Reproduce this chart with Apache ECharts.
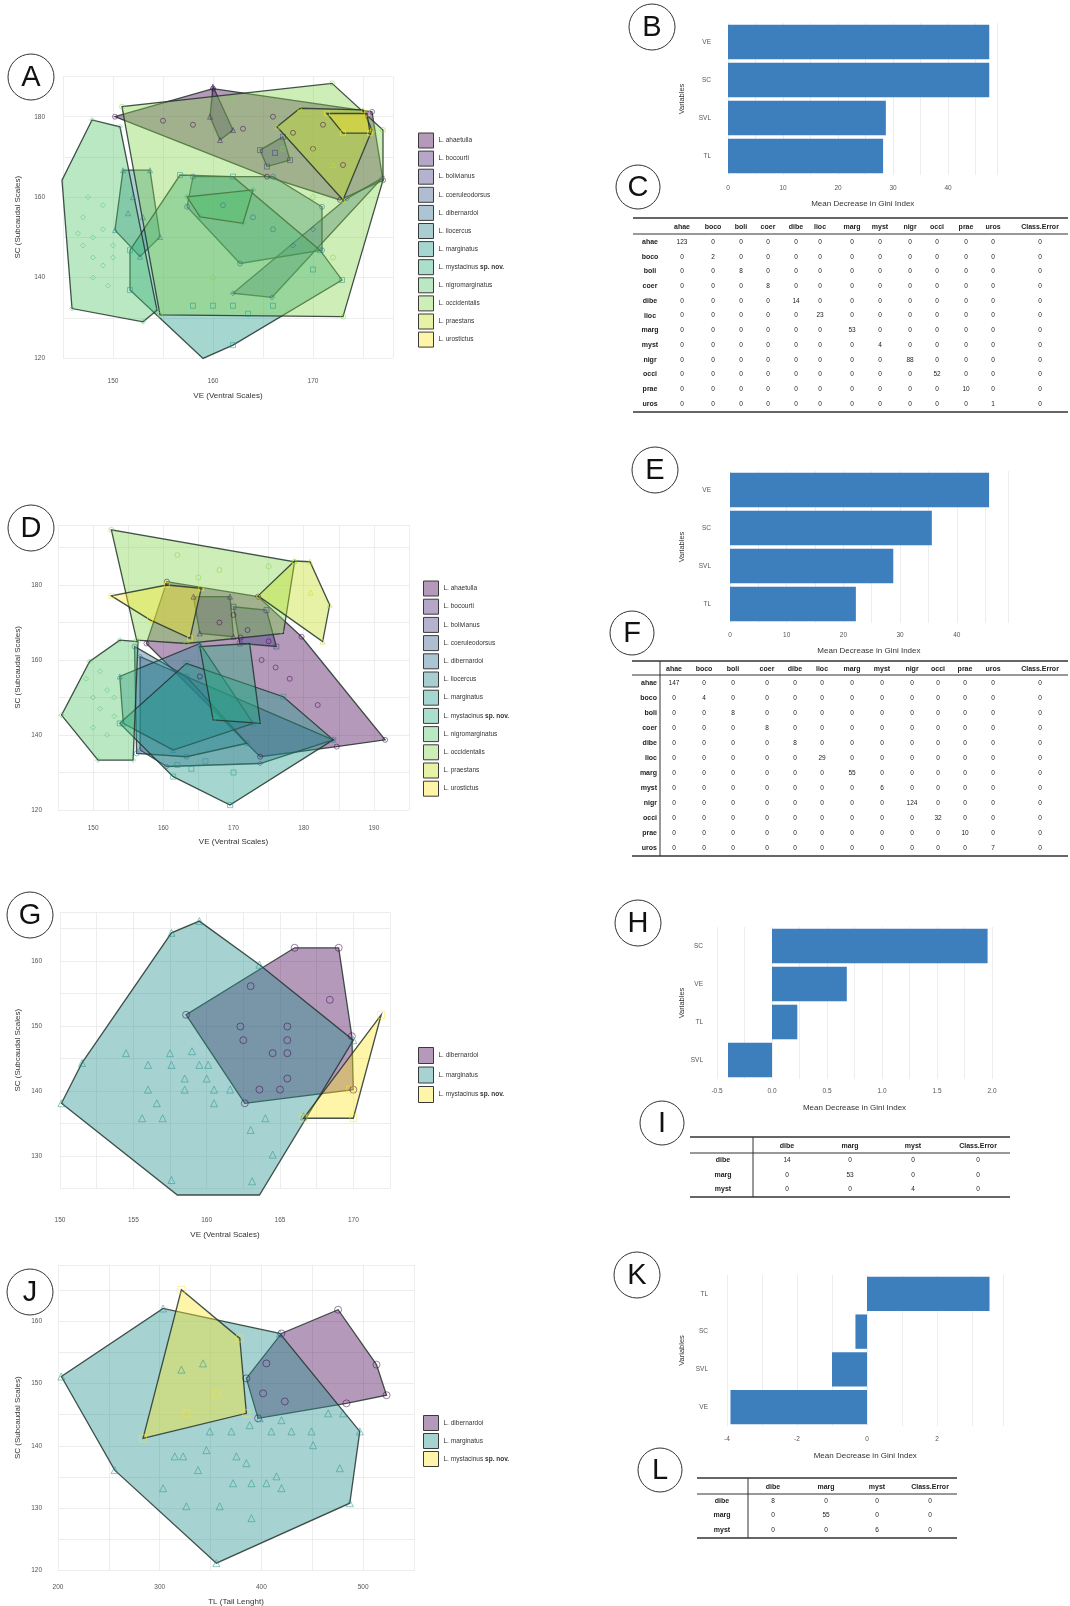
<!DOCTYPE html>
<html>
<head>
<meta charset="utf-8">
<script src="https://cdn.jsdelivr.net/npm/echarts@6/dist/echarts.min.js"></script>
<style>
  html, body { margin: 0; padding: 0; background: #fff; }
  #chart { width: 1070px; height: 1606px; }
</style>
</head>
<body>
<div id="chart"></div>
<script>
const FONT = "Liberation Sans, Arial, Helvetica, sans-serif";

// species and palettes
const species12 = ["L. ahaetulla", "L. bocourti", "L. bolivianus", "L. coeruleodorsus", "L. dibernardoi", "L. liocercus",
  "L. marginatus", "L. mystacinus sp. nov.", "L. nigromarginatus", "L. occidentalis", "L. praestans", "L. urostictus"];
const species3 = ["L. dibernardoi", "L. marginatus", "L. mystacinus sp. nov."];
const viridis12 = ["#440154", "#482173", "#433E85", "#38598C", "#2D708E", "#25858E", "#1E9B8A", "#2BB07F", "#51C56A", "#85D54A", "#C2DF23", "#FDE725"];
const viridis3 = ["#440154", "#21908C", "#FDE725"];
const symbols12 = ["circle", "triangle", "rect", "diamond", "circle", "triangle", "rect", "diamond", "diamond", "circle", "triangle", "rect"];
const symbols3 = ["circle", "triangle", "rect"];

// panel A: [VE, SC] per species
const pointsA = [
  [[150.2,180.0],[160.0,187.0],[175.9,181.2],[177.0,164.2],[172.7,159.3],[165.4,165.1],[155,179],[158,178],[163,177],[166,180],[170,172],[168,176],[173,168],[171,178]],
  [[160.0,187.5],[162.0,176.7],[160.7,174.2],[159.7,180.0]],
  [[164.7,171.7],[167.0,175.0],[167.7,169.2],[165.4,167.6],[166.2,171.0]],
  [[176.9,164.7],[173.4,159.7],[162.0,136.1],[165.9,135.1],[168,148],[170,152]],
  [[158.0,165.1],[166.0,165.1],[170.9,157.6],[170.9,146.8],[162.7,143.5],[157.4,157.6],[164,155],[166,152],[161,158]],
  [[151.0,166.7],[153.7,166.7],[154.7,150.1],[152.7,145.2],[150.2,151.8],[152,160],[153,155],[151.5,156]],
  [[151.7,146.8],[151.7,136.9],[159.0,119.9],[162.0,123.2],[172.9,139.4],[170.7,146.8],[162.0,165.1],[156.7,165.5],[158,133],[160,133],[162,133],[163.5,131],[166,133],[170,142]],
  [[157.4,160.1],[164.0,161.8],[163.0,153.5],[158.7,155.1]],
  [[147.9,179.2],[150.7,177.5],[154.4,131.9],[153.0,129.0],[145.9,132.3],[144.9,164.2],[147,155],[148,150],[149,152],[148,145],[147,148],[149,158],[146.5,151],[150,148],[148,140],[149,143],[150,145],[147.5,160],[149.5,138]],
  [[150.9,182.5],[171.9,188.3],[177.0,176.7],[177.0,164.2],[173.0,130.3],[154.7,130.7],[162,184],[167,172],[170,160],[172,145],[160,140]],
  [[166.4,177.5],[168.7,182.1],[175.0,181.7],[175.9,176.7],[173.0,159.3],[170,172],[172,168]],
  [[171.4,180.8],[175.4,180.8],[175.7,175.9],[173.0,175.9]]
];

// panel D: [VE, SC] per species
const pointsD = [
  [[160.5,180.9],[173.5,176.9],[179.7,166.2],[191.6,138.7],[184.7,136.9],[173.8,134.2],[165.2,155.6],[157.6,164.4],[168,170],[172,168],[175,165],[170,172],[174,160],[178,155],[182,148],[176,158],[171,166]],
  [[164.3,176.9],[169.5,176.9],[170.0,166.2],[165.2,167.1]],
  [[170.0,174.2],[174.7,173.3],[176.1,163.6],[170.9,164.4]],
  [[156.7,160.9],[184.2,138.7],[173.8,132.4],[160.5,131.6],[156.7,136.0]],
  [[155.9,163.6],[163.3,155.6],[171.9,137.8],[163.3,134.2],[156.2,135.1]],
  [[153.8,155.6],[165.2,164.4],[172.8,143.1],[161.4,136.0],[154.3,143.1]],
  [[153.8,143.1],[161.4,128.9],[169.5,121.3],[184.2,138.7],[177.1,150.2],[163.3,159.1],[162,132],[164,131],[166,133],[170,130]],
  [[165.2,163.6],[172.3,164.4],[173.8,143.1],[167.1,144.0]],
  [[145.5,145.3],[149.5,159.6],[153.8,165.3],[156.4,164.9],[155.7,133.3],[150.7,133.3],[150,150],[151,147],[152,152],[150,142],[153,145],[152,140],[149,155],[151,157],[153,150]],
  [[152.6,194.7],[178.7,186.2],[177.1,167.1],[163.3,164.4],[156.2,165.3],[162,188],[168,184],[165,182],[175,185]],
  [[173.5,177.1],[178.7,186.4],[180.9,186.2],[183.7,174.7],[182.7,164.9],[181,178]],
  [[152.6,177.1],[160.5,180.0],[165.4,179.1],[163.8,165.8],[158.1,170.7]]
];

// panel G: [VE, SC]
const pointsG = [
  [[158.6,151.7],[166.0,162.0],[169.0,162.0],[169.9,148.4],[170.0,140.2],[162.6,138.1],[163.0,156.1],[168.4,154.0],[162.3,149.9],[165.5,149.9],[162.5,147.8],[165.5,147.8],[164.5,145.8],[165.5,145.8],[163.6,140.2],[165.0,140.2],[165.5,141.9]],
  [[150.1,138.1],[151.5,144.3],[157.6,164.3],[159.5,166.1],[163.6,159.4],[170.0,147.8],[166.6,136.1],[163.6,124.0],[158.0,124.0],[154.5,145.8],[156.0,144.0],[157.5,145.8],[157.6,144.0],[159.0,146.1],[159.5,144.0],[160.1,144.0],[158.5,141.9],[160.0,141.9],[156.0,140.2],[156.6,138.1],[158.5,140.2],[160.5,140.2],[161.6,140.2],[160.5,138.1],[155.6,135.8],[157.0,135.8],[163.0,134.0],[164.0,135.8],[164.5,130.2],[163.1,126.1],[157.6,126.3]],
  [[166.6,135.8],[171.9,151.7],[170.0,135.8],[169.8,140.2]]
];

// panel J: [TL, SC]
const pointsJ = [
  [[385.2,150.8],[419.7,158.0],[475.4,161.8],[513.1,153.0],[523.0,148.1],[483.6,146.8],[396.7,144.4],[404.9,153.2],[401.6,148.4],[423.0,147.1]],
  [[203.3,151.1],[303.3,162.0],[418.0,158.0],[496.7,142.3],[486.9,130.8],[355.7,121.2],[255.7,136.1],[349.2,142.3],[370.5,142.3],[388.5,143.3],[409.8,142.3],[429.5,142.3],[449.2,142.3],[465.6,145.2],[480.3,145.2],[450.8,140.1],[314.8,138.3],[323.0,138.3],[345.9,139.3],[375.4,138.3],[385.2,137.2],[337.7,136.1],[372.1,134.0],[390.2,134.0],[404.9,134.0],[414.8,135.1],[419.7,133.2],[477.0,136.4],[303.3,133.2],[326.2,130.3],[359.0,130.3],[390.2,128.4],[419.7,144.1],[398.4,144.4],[321.3,152.2],[342.6,153.2]],
  [[321.3,165.0],[378.7,157.2],[385.2,145.2],[283.6,141.2],[326.2,145.2],[355.7,148.4]]
];

// variable importance (Mean Decrease in Gini Index)
const varsB = ["VE", "SC", "SVL", "TL"];
const giniB = [47.5, 47.5, 28.7, 28.2];
const varsE = ["VE", "SC", "SVL", "TL"];
const giniE = [45.7, 35.6, 28.8, 22.2];
const varsH = ["SC", "VE", "TL", "SVL"];
const giniH = [1.96, 0.68, 0.23, -0.40];
const varsK = ["TL", "SC", "SVL", "VE"];
const giniK = [3.5, -0.33, -1.0, -3.9];

// confusion matrices
const abbr12 = ["ahae", "boco", "boli", "coer", "dibe", "lioc", "marg", "myst", "nigr", "occi", "prae", "uros"];
const abbr3 = ["dibe", "marg", "myst"];
const tableC = [
  [123,0,0,0,0,0,0,0,0,0,0,0,0],
  [0,2,0,0,0,0,0,0,0,0,0,0,0],
  [0,0,8,0,0,0,0,0,0,0,0,0,0],
  [0,0,0,8,0,0,0,0,0,0,0,0,0],
  [0,0,0,0,14,0,0,0,0,0,0,0,0],
  [0,0,0,0,0,23,0,0,0,0,0,0,0],
  [0,0,0,0,0,0,53,0,0,0,0,0,0],
  [0,0,0,0,0,0,0,4,0,0,0,0,0],
  [0,0,0,0,0,0,0,0,88,0,0,0,0],
  [0,0,0,0,0,0,0,0,0,52,0,0,0],
  [0,0,0,0,0,0,0,0,0,0,10,0,0],
  [0,0,0,0,0,0,0,0,0,0,0,1,0]
];
const tableF = [
  [147,0,0,0,0,0,0,0,0,0,0,0,0],
  [0,4,0,0,0,0,0,0,0,0,0,0,0],
  [0,0,8,0,0,0,0,0,0,0,0,0,0],
  [0,0,0,8,0,0,0,0,0,0,0,0,0],
  [0,0,0,0,8,0,0,0,0,0,0,0,0],
  [0,0,0,0,0,29,0,0,0,0,0,0,0],
  [0,0,0,0,0,0,55,0,0,0,0,0,0],
  [0,0,0,0,0,0,0,6,0,0,0,0,0],
  [0,0,0,0,0,0,0,0,124,0,0,0,0],
  [0,0,0,0,0,0,0,0,0,32,0,0,0],
  [0,0,0,0,0,0,0,0,0,0,10,0,0],
  [0,0,0,0,0,0,0,0,0,0,0,7,0]
];
const tableI = [[14,0,0,0],[0,53,0,0],[0,0,4,0]];
const tableL = [[8,0,0,0],[0,55,0,0],[0,0,6,0]];

const BAR = "#3d7ebd";
const HULL_ALPHA = 0.4;

function rgba(hex, a) {
  const n = parseInt(hex.slice(1), 16);
  return "rgba(" + (n >> 16) + "," + ((n >> 8) & 255) + "," + (n & 255) + "," + a + ")";
}

function convexHull(points) {
  const p = points.slice().sort((a, b) => a[0] - b[0] || a[1] - b[1]);
  const cross = (o, a, b) => (a[0] - o[0]) * (b[1] - o[1]) - (a[1] - o[1]) * (b[0] - o[0]);
  const lower = [];
  for (const q of p) {
    while (lower.length >= 2 && cross(lower[lower.length - 2], lower[lower.length - 1], q) <= 0) lower.pop();
    lower.push(q);
  }
  const upper = [];
  for (let i = p.length - 1; i >= 0; i--) {
    const q = p[i];
    while (upper.length >= 2 && cross(upper[upper.length - 2], upper[upper.length - 1], q) <= 0) upper.pop();
    upper.push(q);
  }
  upper.pop();
  lower.pop();
  return lower.concat(upper);
}

function tickFormatter(step, dec) {
  return (v) => {
    const k = v / step;
    return Math.abs(k - Math.round(k)) < 1e-6 ? (Math.abs(v) < 1e-9 ? 0 : v).toFixed(dec) : "";
  };
}

function valueAxis(o) {
  return {
    type: "value", gridIndex: o.g, min: o.min, max: o.max, interval: o.interval,
    name: o.name || "", nameLocation: "middle", nameGap: o.nameGap,
    nameTextStyle: { fontSize: 8, color: "#333", fontFamily: FONT },
    axisLine: { show: false }, axisTick: { show: false },
    splitLine: { show: true, lineStyle: { color: "#e8e8e8", width: 0.8 } },
    axisLabel: { margin: o.margin, fontSize: 6.5, color: "#555", fontFamily: FONT,
      formatter: tickFormatter(o.step, o.dec || 0), showMinLabel: true, showMaxLabel: true }
  };
}

function catAxis(g, vars, margin, nameGap) {
  return {
    type: "category", gridIndex: g, data: vars, inverse: true,
    name: "Variables", nameLocation: "middle", nameGap: nameGap,
    nameTextStyle: { fontSize: 7.5, color: "#333", fontFamily: FONT },
    axisLine: { show: false }, axisTick: { show: false }, splitLine: { show: false },
    axisLabel: { margin: margin, fontSize: 6.5, color: "#555", fontFamily: FONT }
  };
}

function hullPanel(panel, g, names, colors, symbols, pts, size) {
  const out = [];
  names.forEach((n, i) => {
    const nm = n + "@" + panel;
    const h = convexHull(pts[i]);
    const fill = rgba(colors[i], HULL_ALPHA);
    out.push({
      type: "custom", name: nm, xAxisIndex: g, yAxisIndex: g, data: h, silent: true, z: 2,
      itemStyle: { color: fill },
      renderItem: (params, api) => {
        if (params.dataIndex !== 0) return null;
        return {
          type: "polygon",
          shape: { points: h.map((p) => api.coord(p)) },
          style: { fill: fill, stroke: "rgba(35,52,45,0.85)", lineWidth: 1.3 }
        };
      }
    });
    out.push({
      type: "scatter", name: nm, xAxisIndex: g, yAxisIndex: g, data: pts[i], silent: true, z: 3,
      symbol: symbols[i], symbolSize: size,
      itemStyle: { color: "rgba(0,0,0,0)", borderColor: rgba(colors[i], 0.8), borderWidth: 0.8 }
    });
  });
  return out;
}

function legendFor(panel, names, colors, left, top, itemH, gap) {
  return {
    orient: "vertical", left: left, top: top, itemWidth: 15, itemHeight: itemH, itemGap: gap,
    icon: "rect", selectedMode: false,
    data: names.map((n, i) => ({ name: n + "@" + panel,
      itemStyle: { color: rgba(colors[i], HULL_ALPHA), borderColor: "#3a3a3a", borderWidth: 1 } })),
    formatter: (nm) => {
      const n = nm.split("@")[0];
      if (n.indexOf("sp. nov.") >= 0) return "{n|" + n.replace(" sp. nov.", "") + " }{b|sp. nov.}";
      return "{n|" + n + "}";
    },
    textStyle: { fontSize: 6.5, color: "#333", fontFamily: FONT,
      rich: { n: { fontSize: 6.5, color: "#333", fontFamily: FONT },
              b: { fontSize: 6.5, fontWeight: "bold", color: "#333", fontFamily: FONT } } }
  };
}

function barSeries(g, vals) {
  return { type: "bar", xAxisIndex: g, yAxisIndex: g, data: vals, barCategoryGap: "9%",
    itemStyle: { color: BAR }, silent: true };
}

function txt(x, y, s, size, bold, align) {
  return { type: "text", x: x, y: y, z: 10,
    style: { text: s, fontSize: size, fontWeight: bold ? "bold" : "normal", fontFamily: FONT,
      fill: "#222", align: align || "center", verticalAlign: "middle" } };
}
function hline(x1, x2, y, w) {
  return { type: "line", z: 10, shape: { x1: x1, y1: y, x2: x2, y2: y }, style: { stroke: "#333", lineWidth: w } };
}
function vline(x, y1, y2) {
  return { type: "line", z: 10, shape: { x1: x, y1: y1, x2: x, y2: y2 }, style: { stroke: "#333", lineWidth: 1 } };
}

function tableEls(t, header, rows, values) {
  const els = [];
  els.push(hline(t.x0, t.x1, t.top, 1.3));
  els.push(hline(t.x0, t.x1, t.sep, 1));
  els.push(hline(t.x0, t.x1, t.bottom, 1.3));
  if (t.vx) els.push(vline(t.vx, t.top, t.bottom));
  header.forEach((h, j) => els.push(txt(t.cols[j], t.head, h, 7, true)));
  rows.forEach((r, i) => {
    const y = t.first + i * t.step;
    els.push(txt(t.labelX, y, r, 7, true, t.labelAlign));
    values[i].forEach((v, j) => els.push(txt(t.cols[j], y, String(v), 6.5, false)));
  });
  return els;
}

function badge(cx, cy, r, letter) {
  return [
    { type: "circle", z: 10, shape: { cx: cx, cy: cy, r: r }, style: { fill: "#fff", stroke: "#333", lineWidth: 1 } },
    { type: "text", z: 11, x: cx, y: cy + 1, style: { text: letter, fontSize: 29, fontFamily: FONT,
      fill: "#111", align: "center", verticalAlign: "middle" } }
  ];
}

const cols12C = [682, 713, 741, 768, 796, 820, 852, 880, 910, 937, 966, 993, 1040];
const cols12F = [674, 704, 733, 767, 795, 822, 852, 882, 912, 938, 965, 993, 1040];

const graphics = []
  .concat(badge(31, 77, 23, "A"), badge(652, 27, 23, "B"), badge(638, 187, 22, "C"),
          badge(31, 528, 23, "D"), badge(655, 470, 23, "E"), badge(632, 633, 22, "F"),
          badge(30, 915, 23, "G"), badge(638, 923, 23, "H"), badge(662, 1123, 22, "I"),
          badge(30, 1292, 23, "J"), badge(637, 1275, 23, "K"), badge(660, 1470, 22, "L"))
  .concat(tableEls({ x0: 633, x1: 1068, top: 218, sep: 234, bottom: 412, head: 227, first: 242, step: 14.72,
                     labelX: 650, labelAlign: "center", cols: cols12C }, abbr12.concat(["Class.Error"]), abbr12, tableC))
  .concat(tableEls({ x0: 632, x1: 1068, top: 661, sep: 675, bottom: 856, head: 669, first: 683, step: 15,
                     labelX: 657, labelAlign: "right", cols: cols12F, vx: 660 }, abbr12.concat(["Class.Error"]), abbr12, tableF))
  .concat(tableEls({ x0: 690, x1: 1010, top: 1137, sep: 1153, bottom: 1197, head: 1146, first: 1160.5, step: 14.5,
                     labelX: 723, labelAlign: "center", cols: [787, 850, 913, 978], vx: 753 }, abbr3.concat(["Class.Error"]), abbr3, tableI))
  .concat(tableEls({ x0: 697, x1: 957, top: 1478, sep: 1494, bottom: 1538, head: 1487, first: 1501, step: 14.5,
                     labelX: 722, labelAlign: "center", cols: [773, 826, 877, 930], vx: 748 }, abbr3.concat(["Class.Error"]), abbr3, tableL));

const grids = [
  { left: 63, top: 76.5, width: 330, height: 281.5 },   // A
  { left: 728, top: 23, width: 269.5, height: 152 },    // B
  { left: 58, top: 525, width: 351, height: 285 },      // D
  { left: 730, top: 471, width: 277.8, height: 152 },   // E
  { left: 60, top: 912, width: 330, height: 276.5 },    // G
  { left: 717, top: 927, width: 275, height: 152 },     // H
  { left: 58, top: 1264.8, width: 356, height: 305.8 }, // J
  { left: 727, top: 1275, width: 276.5, height: 151 }   // K
].map((g) => Object.assign({ outerBoundsMode: "none", containLabel: false }, g));

const xAxes = [
  valueAxis({ g: 0, min: 145, max: 178, interval: 5, step: 10, name: "VE (Ventral Scales)", nameGap: 34, margin: 20 }),
  valueAxis({ g: 1, min: 0, max: 49, interval: 5, step: 10, name: "Mean Decrease in Gini Index", nameGap: 25, margin: 10 }),
  valueAxis({ g: 2, min: 145, max: 195, interval: 5, step: 10, name: "VE (Ventral Scales)", nameGap: 28, margin: 15 }),
  valueAxis({ g: 3, min: 0, max: 49, interval: 5, step: 10, name: "Mean Decrease in Gini Index", nameGap: 24, margin: 9 }),
  valueAxis({ g: 4, min: 150, max: 172.5, interval: 2.5, step: 5, name: "VE (Ventral Scales)", nameGap: 42, margin: 28 }),
  valueAxis({ g: 5, min: -0.5, max: 2, interval: 0.25, step: 0.5, dec: 1, name: "Mean Decrease in Gini Index", nameGap: 25, margin: 9 }),
  valueAxis({ g: 6, min: 200, max: 550, interval: 50, step: 100, name: "TL (Tail Lenght)", nameGap: 27, margin: 13 }),
  valueAxis({ g: 7, min: -4, max: 3.9, interval: 1, step: 2, name: "Mean Decrease in Gini Index", nameGap: 26, margin: 10 })
];

const yAxes = [
  valueAxis({ g: 0, min: 120, max: 190, interval: 10, step: 20, name: "SC (Subcaudal Scales)", nameGap: 41, margin: 18 }),
  catAxis(1, varsB, 17, 42),
  valueAxis({ g: 2, min: 120, max: 196, interval: 10, step: 20, name: "SC (Subcaudal Scales)", nameGap: 36, margin: 16 }),
  catAxis(3, varsE, 19, 44),
  valueAxis({ g: 4, min: 125, max: 167.5, interval: 5, step: 10, name: "SC (Subcaudal Scales)", nameGap: 38, margin: 18 }),
  catAxis(5, varsH, 14, 31),
  valueAxis({ g: 6, min: 120, max: 169, interval: 5, step: 10, name: "SC (Subcaudal Scales)", nameGap: 36, margin: 16 }),
  catAxis(7, varsK, 19, 41)
];

const series = []
  .concat(hullPanel("A", 0, species12, viridis12, symbols12, pointsA, 5))
  .concat([barSeries(1, giniB)])
  .concat(hullPanel("D", 2, species12, viridis12, symbols12, pointsD, 5))
  .concat([barSeries(3, giniE)])
  .concat(hullPanel("G", 4, species3, viridis3, symbols3, pointsG, 7))
  .concat([barSeries(5, giniH)])
  .concat(hullPanel("J", 6, species3, viridis3, symbols3, pointsJ, 7))
  .concat([barSeries(7, giniK)]);

const chart = echarts.init(document.getElementById("chart"), null, { renderer: "canvas" });
chart.setOption({
  animation: false,
  backgroundColor: "#fff",
  textStyle: { fontFamily: FONT },
  grid: grids,
  xAxis: xAxes,
  yAxis: yAxes,
  legend: [
    legendFor("A", species12, viridis12, 413, 127.5, 15, 2.1),
    legendFor("D", species12, viridis12, 418, 575.5, 15, 2.2),
    legendFor("G", species3, viridis3, 413, 1042, 16, 2.5),
    legendFor("J", species3, viridis3, 418, 1410, 15, 2)
  ],
  series: series,
  graphic: { elements: graphics }
});
</script>
</body>
</html>
